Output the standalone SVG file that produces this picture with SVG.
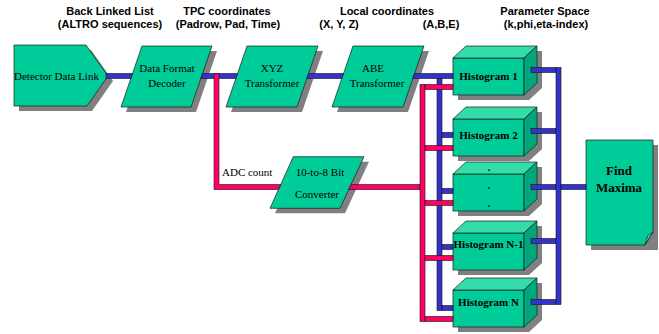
<svg xmlns="http://www.w3.org/2000/svg" xmlns:xlink="http://www.w3.org/1999/xlink" width="659" height="334" viewBox="0 0 659 334">
<style>
.hdr{font-family:"Liberation Sans",Arial,sans-serif;font-size:11px;font-weight:bold;text-anchor:middle;fill:#000}
.lbl{font-family:"Liberation Serif","Times New Roman",serif;font-size:11px;text-anchor:middle;fill:#000}
.hb{font-family:"Liberation Serif","Times New Roman",serif;font-size:11px;font-weight:bold;text-anchor:middle;fill:#000}
.big{font-family:"Liberation Serif","Times New Roman",serif;font-size:13px;font-weight:bold;text-anchor:middle;fill:#000}
.shape{fill:#00CC99;stroke:#1a1a1a;stroke-width:0.7}
.shadow{fill:#808080}
.top{fill:#33DDAA;stroke:#1a1a1a;stroke-width:0.7}
.side{fill:#00A67C;stroke:#1a1a1a;stroke-width:0.7}
.bl{fill:#3333CC;stroke:#111;stroke-width:0.6}
.rd{fill:#FF0066;stroke:#111;stroke-width:0.6}
</style>
<defs>
<g id="cube">
<polygon class="shadow" points="5,5 18,-7 89,-7 89,30 76,42 5,42"/>
<rect class="shape" x="0" y="0" width="71" height="37"/>
<polygon class="top" points="0,0 13,-12 84,-12 71,0"/>
<polygon class="side" points="71,0 84,-12 84,25 71,37"/>
</g>
</defs>
<rect width="659" height="334" fill="#fff"/>

<g id="headers">
<text class="hdr" x="110" y="15">Back Linked List</text>
<text class="hdr" x="110" y="28">(ALTRO sequences)</text>
<text class="hdr" x="227" y="15">TPC coordinates</text>
<text class="hdr" x="228" y="28">(Padrow, Pad, Time)</text>
<text class="hdr" x="387" y="15">Local coordinates</text>
<text class="hdr" x="339" y="28">(X, Y, Z)</text>
<text class="hdr" x="441" y="28">(A,B,E)</text>
<text class="hdr" x="545" y="15">Parameter Space</text>
<text class="hdr" x="546" y="28">(k,phi,eta-index)</text>
</g>

<g id="detector">
<polygon class="shadow" points="19,50 91,50 113,81 92,111 19,111"/>
<polygon class="shape" points="14,45 86,45 108,76 87,106 14,106"/>
<text class="lbl" x="14" y="80" style="text-anchor:start">Detector Data Link</text>
</g>

<g id="decoder">
<polygon class="shadow" points="147,51 217,51 196,112 126,112"/>
<polygon class="shape" points="142,46 212,46 191,107 121,107"/>
<text class="lbl" x="167" y="72">Data Format</text>
<text class="lbl" x="167" y="87">Decoder</text>
</g>

<g id="xyz">
<polygon class="shadow" points="252,51 323,51 302,112 231,112"/>
<polygon class="shape" points="247,46 318,46 297,107 226,107"/>
<text class="lbl" x="272" y="72">XYZ</text>
<text class="lbl" x="272" y="87">Transformer</text>
</g>

<g id="abe">
<polygon class="shadow" points="358,51 429,51 408,112 337,112"/>
<polygon class="shape" points="353,46 424,46 403,107 332,107"/>
<text class="lbl" x="373" y="72">ABE</text>
<text class="lbl" x="377" y="87">Transformer</text>
</g>

<g id="converter">
<polygon class="shadow" points="298.3,161.7 369,161.7 345,213.3 275,213.3"/>
<polygon class="shape" points="293.3,156.7 364,156.7 340,208.3 270,208.3"/>
<text class="lbl" x="320" y="176">10-to-8 Bit</text>
<text class="lbl" x="317" y="198">Converter</text>
</g>

<g id="hist1">
<use xlink:href="#cube" href="#cube" x="453" y="58"/>
<text class="hb" x="488.5" y="80">Histogram 1</text>
</g>
<g id="hist2">
<use xlink:href="#cube" href="#cube" x="453" y="119"/>
<text class="hb" x="488.5" y="139">Histogram 2</text>
</g>
<g id="hist3">
<use xlink:href="#cube" href="#cube" x="453" y="174"/>
<text class="hb" x="489" y="171">.</text>
<text class="hb" x="489" y="189">.</text>
<text class="hb" x="489" y="207">.</text>
</g>
<g id="histN-1">
<use xlink:href="#cube" href="#cube" x="453" y="233"/>
<text class="hb" x="488.5" y="248">Histogram N-1</text>
</g>
<g id="histN">
<use xlink:href="#cube" href="#cube" x="453" y="290"/>
<text class="hb" x="488.5" y="306">Histogram N</text>
</g>

<g id="findmaxima">
<path class="shadow" d="M591,145 H658 V250 H591 Z"/>
<path class="shape" d="M586,140 H653 V232 L645,245 H586 Z"/>
<path class="top" d="M645,245 L647.5,236 L653,232 Z"/>
<text class="big" x="619" y="175">Find</text>
<text class="big" x="619" y="192">Maxima</text>
</g>

<g id="connectors">
<polygon class="bl" points="106,73.5 132.5,73.5 130.8,78.5 106,78.5"/>
<polygon class="bl" points="202.5,73.5 237.5,73.5 235.8,78.5 200.8,78.5"/>
<polygon class="bl" points="308.5,73.5 343.5,73.5 341.8,78.5 306.8,78.5"/>
<polygon class="bl" points="414.5,73.5 453,73.5 453,78.5 412.8,78.5"/>
<rect class="bl" x="437" y="78.5" width="5" height="232"/>
<rect class="bl" x="442" y="132.5" width="11" height="5"/>
<rect class="bl" x="442" y="188.5" width="11" height="5"/>
<rect class="bl" x="442" y="244.5" width="11" height="5"/>
<rect class="bl" x="442" y="305.5" width="11" height="5"/>
<rect class="bl" x="531" y="67.5" width="25" height="5"/>
<rect class="bl" x="531" y="128.5" width="25" height="5"/>
<rect class="bl" x="531" y="184.5" width="25" height="5"/>
<rect class="bl" x="531" y="238.5" width="25" height="5"/>
<rect class="bl" x="531" y="299.5" width="25" height="5"/>
<rect class="bl" x="556" y="67.5" width="5" height="237"/>
<rect class="bl" x="561" y="184.5" width="25" height="5"/>
<path class="rd" d="M214,73.5 H219 V184.5 H280.7 L278.5,189.5 H214 Z"/>
<polygon class="rd" points="351.1,184.5 420,184.5 420,189.5 348.8,189.5"/>
<rect class="rd" x="420" y="84.5" width="5" height="237"/>
<rect class="rd" x="425" y="84.5" width="28" height="5"/>
<rect class="rd" x="425" y="145.5" width="28" height="5"/>
<rect class="rd" x="425" y="200.5" width="28" height="5"/>
<rect class="rd" x="425" y="255.5" width="28" height="5"/>
<rect class="rd" x="425" y="316.5" width="28" height="5"/>
<text class="lbl" x="222" y="176" style="text-anchor:start">ADC count</text>
</g>
</svg>
